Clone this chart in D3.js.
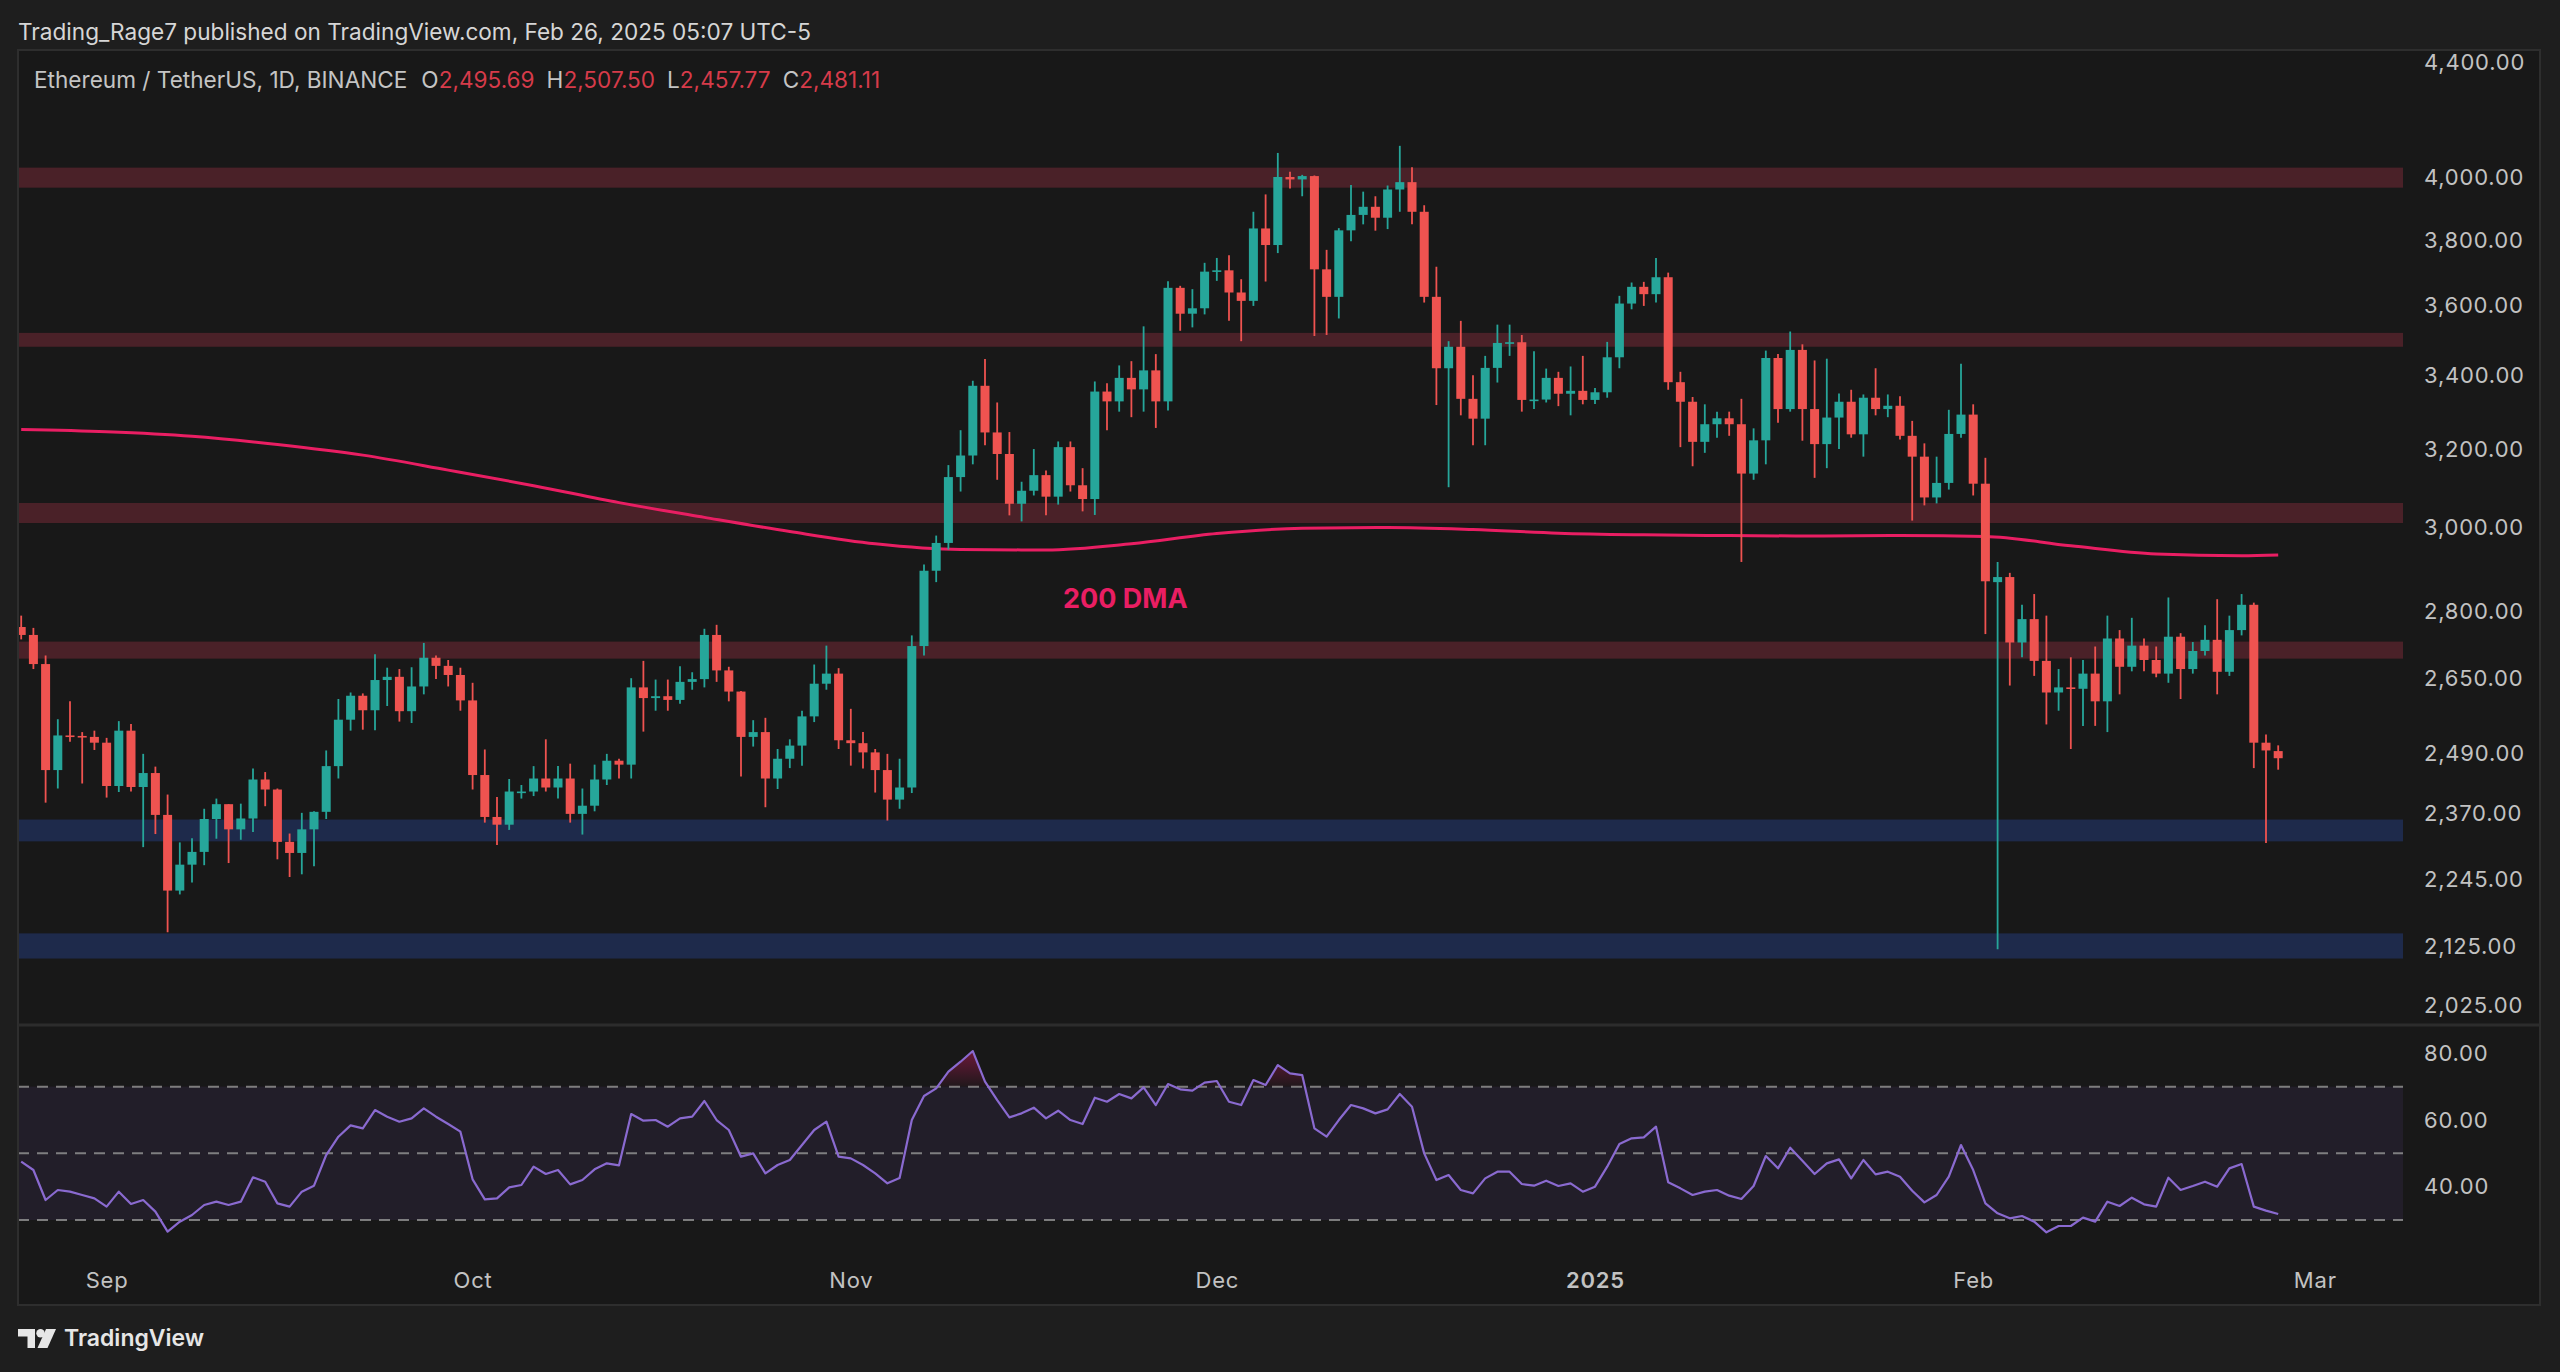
<!DOCTYPE html>
<html>
<head>
<meta charset="utf-8">
<script src="https://cdn.jsdelivr.net/npm/d3@7"></script>
<style>
  html, body { margin: 0; padding: 0; background: #1e1e1e; }
  svg { display: block; }
  text { font-family: Inter, Roboto, "Noto Sans", sans-serif; }
</style>
</head>
<body>
<svg id="chart" width="2560" height="1372"></svg>
<script>
// ---------------- DATA ----------------
const startDate = "2024-08-25"; // first daily candle
const opens = [
  2764, 2746, 2681, 2457, 2528, 2527, 2525, 2513, 2425, 2538,
  2423, 2451, 2368, 2225, 2273, 2297, 2360, 2389, 2340, 2361,
  2438, 2418, 2316, 2295, 2340, 2374, 2465, 2561, 2612, 2581,
  2646, 2653, 2579, 2632, 2695, 2677, 2657, 2602, 2447, 2364,
  2349, 2414, 2414, 2440, 2422, 2440, 2370, 2386, 2438, 2476,
  2468, 2630, 2607, 2611, 2603, 2642, 2648, 2746, 2667, 2621,
  2525, 2535, 2440, 2480, 2507, 2568, 2638, 2660, 2518, 2512,
  2493, 2457, 2398, 2422, 2721, 2895, 2962, 3127, 3183, 3371,
  3244, 3187, 3059, 3092, 3132, 3077, 3205, 3106, 3071, 3355,
  3328, 3393, 3361, 3414, 3328, 3654, 3577, 3593, 3703, 3707,
  3640, 3615, 3837, 3785, 4003, 3995, 4006, 3710, 3627, 3831,
  3880, 3906, 3871, 3962, 3986, 3890, 3627, 3420, 3481, 3335,
  3281, 3421, 3492, 3494, 3332, 3333, 3393, 3349, 3357, 3332,
  3353, 3451, 3607, 3657, 3635, 3686, 3381, 3327, 3219, 3266,
  3282, 3266, 3136, 3223, 3449, 3307, 3472, 3307, 3213, 3284,
  3327, 3239, 3338, 3307, 3316, 3235, 3180, 3075, 3112, 3240,
  3292, 3110, 2868, 2880, 2729, 2782, 2688, 2619, 2630, 2627,
  2660, 2600, 2738, 2675, 2722, 2690, 2660, 2742, 2670, 2710,
  2735, 2664, 2757, 2815, 2513, 2495.69
];
const highs = [
  2790, 2762, 2700, 2562, 2600, 2535, 2538, 2523, 2558, 2552,
  2490, 2464, 2408, 2315, 2323, 2380, 2400, 2389, 2390, 2460,
  2453, 2420, 2332, 2372, 2375, 2497, 2605, 2619, 2617, 2703,
  2673, 2670, 2674, 2728, 2700, 2690, 2673, 2640, 2499, 2403,
  2439, 2427, 2465, 2520, 2465, 2470, 2420, 2468, 2490, 2480,
  2650, 2688, 2647, 2647, 2676, 2663, 2760, 2769, 2675, 2622,
  2560, 2565, 2500, 2520, 2580, 2680, 2722, 2672, 2584, 2535,
  2500, 2490, 2480, 2745, 2910, 2980, 3158, 3250, 3385, 3446,
  3325, 3245, 3115, 3200, 3144, 3220, 3220, 3150, 3383, 3378,
  3428, 3440, 3540, 3460, 3674, 3660, 3650, 3730, 3745, 3753,
  3680, 3890, 3946, 4083, 4020, 4010, 4008, 3770, 3838, 3977,
  3955, 3940, 3975, 4107, 4035, 3911, 3718, 3497, 3556, 3400,
  3455, 3545, 3545, 3515, 3468, 3419, 3410, 3425, 3455, 3365,
  3495, 3630, 3670, 3672, 3745, 3700, 3410, 3340, 3320, 3300,
  3300, 3335, 3255, 3470, 3460, 3525, 3488, 3442, 3447, 3350,
  3360, 3347, 3420, 3347, 3342, 3275, 3215, 3180, 3305, 3433,
  3320, 3177, 2916, 2890, 2815, 2840, 2790, 2670, 2696, 2690,
  2720, 2790, 2757, 2785, 2738, 2720, 2832, 2750, 2730, 2768,
  2828, 2790, 2840, 2820, 2530, 2507.50
];
const lows = [
  2736, 2670, 2392, 2420, 2515, 2430, 2498, 2402, 2413, 2414,
  2306, 2331, 2150, 2218, 2240, 2272, 2322, 2276, 2320, 2335,
  2385, 2283, 2250, 2255, 2270, 2360, 2440, 2538, 2540, 2539,
  2590, 2557, 2554, 2615, 2648, 2632, 2580, 2418, 2353, 2310,
  2339, 2400, 2405, 2414, 2400, 2353, 2330, 2375, 2427, 2440,
  2440, 2536, 2580, 2580, 2595, 2625, 2630, 2642, 2600, 2444,
  2505, 2383, 2419, 2461, 2466, 2556, 2625, 2500, 2466, 2460,
  2412, 2357, 2380, 2411, 2700, 2868, 2946, 3090, 3160, 3210,
  3120, 3030, 3015, 3080, 3030, 3057, 3090, 3040, 3031, 3250,
  3300, 3285, 3300, 3256, 3303, 3527, 3537, 3575, 3675, 3556,
  3497, 3600, 3673, 3760, 3965, 3940, 3512, 3515, 3563, 3797,
  3850, 3830, 3835, 3890, 3850, 3610, 3318, 3101, 3290, 3210,
  3210, 3380, 3455, 3300, 3307, 3325, 3315, 3290, 3320, 3321,
  3338, 3420, 3590, 3600, 3610, 3360, 3205, 3155, 3190, 3230,
  3235, 2916, 3120, 3160, 3270, 3300, 3222, 3125, 3150, 3200,
  3230, 3180, 3290, 3285, 3225, 3017, 3055, 3060, 3095, 3230,
  3080, 2748, 2120, 2634, 2696, 2655, 2551, 2580, 2500, 2548,
  2548, 2535, 2615, 2665, 2665, 2652, 2640, 2605, 2660, 2700,
  2615, 2655, 2745, 2461, 2314, 2457.77
];
const closes = [
  2746, 2681, 2457, 2528, 2527, 2525, 2513, 2425, 2538, 2423,
  2451, 2368, 2225, 2273, 2297, 2360, 2389, 2340, 2361, 2438,
  2418, 2316, 2295, 2340, 2374, 2465, 2561, 2612, 2581, 2646,
  2653, 2579, 2632, 2695, 2677, 2657, 2602, 2447, 2364, 2349,
  2414, 2414, 2440, 2422, 2440, 2370, 2386, 2438, 2476, 2468,
  2630, 2607, 2611, 2603, 2642, 2648, 2746, 2667, 2621, 2525,
  2535, 2440, 2480, 2507, 2568, 2638, 2660, 2518, 2512, 2493,
  2457, 2398, 2422, 2721, 2895, 2962, 3127, 3183, 3371, 3244,
  3187, 3059, 3092, 3132, 3077, 3205, 3106, 3071, 3355, 3328,
  3393, 3361, 3414, 3328, 3654, 3577, 3593, 3703, 3707, 3640,
  3615, 3837, 3785, 4003, 3995, 4006, 3710, 3627, 3831, 3880,
  3906, 3871, 3962, 3986, 3890, 3627, 3420, 3481, 3335, 3281,
  3421, 3492, 3494, 3332, 3333, 3393, 3349, 3357, 3332, 3353,
  3451, 3607, 3657, 3635, 3686, 3381, 3327, 3219, 3266, 3282,
  3266, 3136, 3223, 3449, 3307, 3472, 3307, 3213, 3284, 3327,
  3239, 3338, 3307, 3316, 3235, 3180, 3075, 3112, 3240, 3292,
  3110, 2870, 2880, 2729, 2782, 2688, 2619, 2630, 2627, 2660,
  2600, 2738, 2675, 2722, 2690, 2660, 2742, 2670, 2710, 2735,
  2664, 2757, 2815, 2513, 2497, 2481.11
];
// RSI(14) values
const rsiValues = [
  47.5, 45, 36, 39, 38.5, 37.5, 36.5, 34, 38.5, 34.8,
  36, 32.5, 26.5, 29.5, 31.5, 34.5, 35.5, 34.5, 35.5, 42.8,
  41.5, 35, 34, 38.5, 40.3, 49.5, 55, 58.4, 57.5, 63,
  61, 59.5, 60.5, 63.5, 61, 58.8, 56.5, 42.2, 36.2, 36.5,
  39.8, 40.5, 46, 43.8, 45, 40.7, 42, 45.2, 47, 46.4,
  61.8, 59.8, 60, 58, 60.5, 61, 65.7, 60, 57, 49,
  50, 44, 46.5, 48, 52.5, 57, 59.5, 49, 48.5, 46.5,
  44, 41, 42.6, 60, 67.2, 69.5, 74.5, 77.5, 80.7, 71.5,
  66, 60.8, 62, 63.7, 60.5, 62.8, 60, 58.8, 66.7, 65.5,
  67.8, 66.5, 69.8, 64.5, 70.8, 69.2, 68.8, 71.2, 71.7, 65.5,
  64.5, 72, 70.5, 76.5, 74, 73.5, 57.5, 55, 60, 64.5,
  63.5, 62, 63.2, 67.8, 64, 50, 42, 43.5, 39, 38,
  42.5, 44.5, 44.5, 40.8, 40.3, 41.8, 40.2, 41, 38.5, 40,
  46, 52.8, 54.5, 54.8, 58, 41.3, 39.5, 37.5, 38.5, 39,
  37.3, 36.3, 40.2, 49.2, 45.5, 51.7, 47.8, 43.8, 47, 48.2,
  42.5, 48, 43.7, 44.5, 43, 38.8, 35.3, 37.5, 43, 52.5,
  45, 35, 32, 30.5, 31.2, 29.5, 26.3, 28.2, 28.2, 30.7,
  29.5, 35.5, 34.2, 36.7, 34.7, 34, 42.7, 39, 40.2, 41.5,
  40, 45.5, 46.8, 34, 32.8, 31.8
];
// 200-day moving average, read at weekly points (day index from start)
const dmaDays   = [0, 7, 14, 21, 28, 35, 42, 49, 56, 63, 70, 77, 84, 91, 98, 105, 112, 119, 126, 133, 140, 147, 154, 161, 168, 175, 182, 185];
const dmaValues = [3252, 3246, 3234, 3212, 3184, 3145, 3105, 3062, 3025, 2990, 2960, 2946, 2945, 2960, 2985, 2998, 3000, 2995, 2986, 2982, 2980, 2979, 2980, 2978, 2955, 2935, 2931, 2933];

const resistanceZones = [[3968, 4034], [3481, 3521], [3011, 3061], [2693, 2731]];
const supportZones    = [[2317, 2359], [2104, 2148]];

const priceTicks = [4400, 4000, 3800, 3600, 3400, 3200, 3000, 2800, 2650, 2490, 2370, 2245, 2125, 2025];
const rsiTicks   = [80, 60, 40];
const rsiLevels  = [70, 50, 30];
const monthTicks  = ["2024-09-01", "2024-10-01", "2024-11-01", "2024-12-01", "2025-01-01", "2025-02-01", "2025-03-01"];
const monthLabels = ["Sep", "Oct", "Nov", "Dec", "2025", "Feb", "Mar"];

const headerText = "Trading_Rage7 published on TradingView.com, Feb 26, 2025 05:07 UTC-5";
const symbolText = "Ethereum / TetherUS, 1D, BINANCE";
const ohlcLabels = ["O", "H", "L", "C"];
const ohlcLast   = [2495.69, 2507.50, 2457.77, 2481.11];
const dmaLabel   = "200 DMA";

// ---------------- LAYOUT ----------------
const W = 2560, H = 1372;
const plotLeft = 18, plotRight = 2403, frameRight = 2540;
const paneTop = 50, paneSep = 1025, frameBottom = 1305;
const upColor = "#26a69a", downColor = "#ef5350";

const parse = d3.utcParse("%Y-%m-%d");
const t0 = parse(startDate);
const dates = closes.map((_, i) => d3.utcDay.offset(t0, i));

const x = d3.scaleUtc()
  .domain([t0, parse("2025-03-01")])
  .range([21.2, 21.2 + 188 * 12.2]);
const y = d3.scaleLog().domain([1992, 4444]).range([paneSep, paneTop]);
const yR = d3.scaleLinear().domain([30, 70]).range([1220, 1086.7]);

const svg = d3.select("#chart");

// backgrounds
svg.append("rect").attr("width", W).attr("height", H).attr("fill", "#1e1e1e");
svg.append("rect").attr("x", plotLeft).attr("y", paneTop)
  .attr("width", frameRight - plotLeft).attr("height", frameBottom - paneTop)
  .attr("fill", "#181818").attr("stroke", "#2e2e2e").attr("stroke-width", 2);
svg.append("line").attr("x1", plotLeft).attr("x2", frameRight).attr("y1", paneSep).attr("y2", paneSep)
  .attr("stroke", "#2c2c2c").attr("stroke-width", 3);

const defs = svg.append("defs");
defs.append("clipPath").attr("id", "priceClip").append("rect")
  .attr("x", plotLeft + 1).attr("y", paneTop + 1).attr("width", plotRight - plotLeft - 1).attr("height", paneSep - paneTop - 3);
defs.append("clipPath").attr("id", "rsiClip").append("rect")
  .attr("x", plotLeft + 1).attr("y", paneSep + 2).attr("width", plotRight - plotLeft - 1).attr("height", frameBottom - paneSep - 3);
defs.append("clipPath").attr("id", "obClip").append("rect")
  .attr("x", plotLeft + 1).attr("y", paneSep + 2).attr("width", plotRight - plotLeft - 1).attr("height", yR(70) - paneSep - 2);
const grad = defs.append("linearGradient").attr("id", "obGrad")
  .attr("gradientUnits", "userSpaceOnUse").attr("x1", 0).attr("x2", 0)
  .attr("y1", yR(82)).attr("y2", yR(70));
grad.append("stop").attr("offset", "0%").attr("stop-color", "#c2185b").attr("stop-opacity", 0.55);
grad.append("stop").attr("offset", "100%").attr("stop-color", "#c2185b").attr("stop-opacity", 0.05);

// header
svg.append("text").attr("x", 18).attr("y", 40).attr("fill", "#d6d6d6")
  .attr("font-size", 22.6).text(headerText);

// ---------- price pane ----------
const price = svg.append("g").attr("clip-path", "url(#priceClip)");

price.selectAll("rect.res").data(resistanceZones).join("rect").attr("class", "res")
  .attr("x", plotLeft).attr("width", plotRight - plotLeft)
  .attr("y", d => y(d[1])).attr("height", d => y(d[0]) - y(d[1]))
  .attr("fill", "#4a2128");
price.selectAll("rect.sup").data(supportZones).join("rect").attr("class", "sup")
  .attr("x", plotLeft).attr("width", plotRight - plotLeft)
  .attr("y", d => y(d[1])).attr("height", d => y(d[0]) - y(d[1]))
  .attr("fill", "#1e2a4b");

// 200 DMA
const dmaLine = d3.line()
  .x((d, i) => x(d3.utcDay.offset(t0, dmaDays[i])))
  .y(d => y(d))
  .curve(d3.curveMonotoneX);
price.append("path").datum(dmaValues).attr("d", dmaLine)
  .attr("fill", "none").attr("stroke", "#e91e63").attr("stroke-width", 3);

// candles
const candles = price.append("g").selectAll("g").data(closes).join("g");
candles.append("line")
  .attr("x1", (d, i) => x(dates[i])).attr("x2", (d, i) => x(dates[i]))
  .attr("y1", (d, i) => y(highs[i])).attr("y2", (d, i) => y(lows[i]))
  .attr("stroke", (d, i) => closes[i] >= opens[i] ? upColor : downColor)
  .attr("stroke-width", 1.8);
candles.append("rect")
  .attr("x", (d, i) => x(dates[i]) - 4.5).attr("width", 9)
  .attr("y", (d, i) => y(Math.max(opens[i], closes[i])))
  .attr("height", (d, i) => Math.max(1.6, y(Math.min(opens[i], closes[i])) - y(Math.max(opens[i], closes[i]))))
  .attr("fill", (d, i) => closes[i] >= opens[i] ? upColor : downColor);

svg.append("text").attr("x", 1063).attr("y", 608).attr("fill", "#e91e63")
  .attr("font-size", 27).attr("font-weight", 700).text(dmaLabel);

// legend
const legend = svg.append("text").attr("x", 34).attr("y", 88).attr("font-size", 22.6);
legend.append("tspan").attr("fill", "#c4c4c4").text(symbolText);
ohlcLabels.forEach((lab, k) => {
  legend.append("tspan").attr("fill", "#c4c4c4").attr("dx", k === 0 ? 14 : 12).text(lab);
  legend.append("tspan").attr("fill", "#d63b4a").text(d3.format(",.2f")(ohlcLast[k]));
});

// price axis
const axisFont = sel => sel.attr("fill", "#c2c2c2").attr("font-size", 22)
  .attr("letter-spacing", 0.8).attr("font-family", "Inter, Roboto, sans-serif");
const yAxis = svg.append("g").attr("transform", `translate(${plotRight + 21},0)`)
  .call(d3.axisRight(y).tickValues(priceTicks).tickFormat(d3.format(",.2f")).tickSize(0).tickPadding(0));
yAxis.select(".domain").remove();
yAxis.selectAll("text").call(axisFont).attr("text-anchor", "start");

// ---------- RSI pane ----------
const rsi = svg.append("g").attr("clip-path", "url(#rsiClip)");
rsi.append("rect").attr("x", plotLeft).attr("width", plotRight - plotLeft)
  .attr("y", yR(70)).attr("height", yR(30) - yR(70))
  .attr("fill", "#7e57c2").attr("fill-opacity", 0.1);
rsi.selectAll("line.lvl").data(rsiLevels).join("line").attr("class", "lvl")
  .attr("x1", plotLeft).attr("x2", plotRight)
  .attr("y1", d => yR(d)).attr("y2", d => yR(d))
  .attr("stroke", "#969696").attr("stroke-width", 2).attr("stroke-dasharray", "11 8")
  .attr("stroke-opacity", 0.8);

const obArea = d3.area()
  .x((d, i) => x(dates[i])).y0(yR(70)).y1(d => yR(d));
rsi.append("path").datum(rsiValues).attr("d", obArea)
  .attr("clip-path", "url(#obClip)").attr("fill", "url(#obGrad)");

const rsiLine = d3.line().x((d, i) => x(dates[i])).y(d => yR(d));
rsi.append("path").datum(rsiValues).attr("d", rsiLine)
  .attr("fill", "none").attr("stroke", "#8a6ad0").attr("stroke-width", 2.2)
  .attr("stroke-linejoin", "round");

const rAxis = svg.append("g").attr("transform", `translate(${plotRight + 21},0)`)
  .call(d3.axisRight(yR).tickValues(rsiTicks).tickFormat(d3.format(".2f")).tickSize(0).tickPadding(0));
rAxis.select(".domain").remove();
rAxis.selectAll("text").call(axisFont).attr("text-anchor", "start");

// ---------- time axis ----------
const xAxis = svg.append("g").attr("transform", "translate(0,1272)")
  .call(d3.axisBottom(x).tickValues(monthTicks.map(parse))
    .tickFormat((d, i) => monthLabels[i]).tickSize(0).tickPadding(0));
xAxis.select(".domain").remove();
xAxis.selectAll("text").call(axisFont)
  .attr("font-weight", (d, i) => monthLabels[i] === "2025" ? 600 : 400);

// ---------- footer logo ----------
const logo = svg.append("g").attr("fill", "#e6e6e6");
logo.append("path").attr("d", "M18,1329 h17 v19 h-7.5 v-11.5 h-9.5 z");
logo.append("circle").attr("cx", 40.5).attr("cy", 1333.2).attr("r", 4.2);
logo.append("path").attr("d", "M46,1329 h10 l-8.5,19 h-10 z");
svg.append("text").attr("x", 64).attr("y", 1346).attr("fill", "#e6e6e6")
  .attr("font-size", 23).attr("font-weight", 600).text("TradingView");
</script>
</body>
</html>
